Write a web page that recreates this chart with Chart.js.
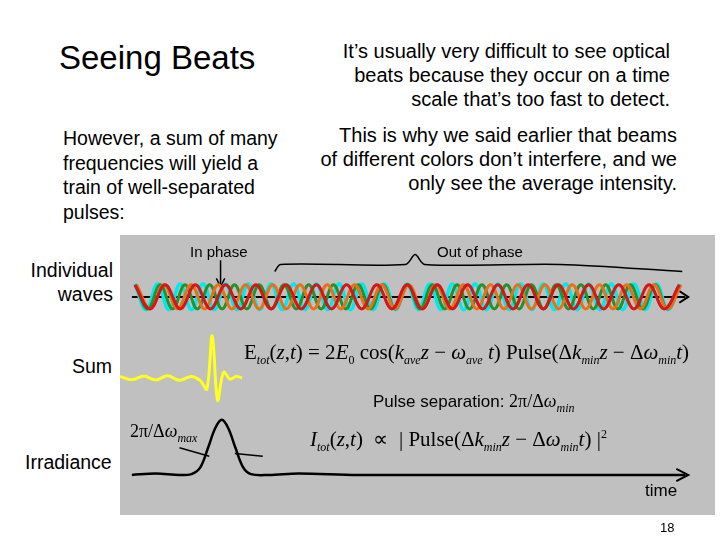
<!DOCTYPE html>
<html><head><meta charset="utf-8">
<script src="https://cdn.jsdelivr.net/npm/chart.js@4"></script>
<style>
body{margin:0;width:720px;height:540px;background:#fff;font-family:Arial,"Liberation Sans",sans-serif;position:relative;overflow:hidden}
.t{position:absolute;color:#000;white-space:nowrap}
#panel{position:absolute;left:120px;top:235px;width:595px;height:280px;background:#c0c0c0}
.f{font-family:"Liberation Serif","Times New Roman",serif;font-size:21px}
</style></head><body>
<div id="panel"><canvas id="c" width="595" height="280"></canvas></div>
<div class="t" style="left:59px;top:39px;font-size:33px">Seeing Beats</div>
<div class="t" style="left:63px;top:126px;font-size:19.5px;line-height:24.5px">However, a sum of many<br>frequencies will yield a<br>train of well-separated<br>pulses:</div>
<div class="t" style="right:50px;top:39px;font-size:20px;line-height:24px;text-align:right">It’s usually very difficult to see optical<br>beats because they occur on a time<br>scale that’s too fast to detect.</div>
<div class="t" style="right:43px;top:123px;font-size:20px;line-height:24px;text-align:right">This is why we said earlier that beams<br>of different colors don’t interfere, and we<br>only see the average intensity.</div>
<div class="t" style="right:607px;top:258px;font-size:19.5px;line-height:24px;text-align:right">Individual<br>waves</div>
<div class="t" style="left:72px;top:355px;font-size:19.5px">Sum</div>
<div class="t" style="left:25px;top:451px;font-size:19.5px">Irradiance</div>
<div class="t" style="left:190px;top:243px;font-size:15px">In phase</div>
<div class="t" style="left:437px;top:243px;font-size:15px">Out of phase</div>
<div class="t f" style="left:244px;top:340px">E<sub style="font-size:12px"><i>tot</i></sub>(<i>z</i>,<i>t</i>) = 2<i>E</i><sub style="font-size:12px">0</sub> cos(<i>k</i><sub style="font-size:12px"><i>ave</i></sub><i>z</i> − <i>ω</i><sub style="font-size:12px"><i>ave</i></sub> <i>t</i>) Pulse(Δ<i>k</i><sub style="font-size:12px"><i>min</i></sub><i>z</i> − Δ<i>ω</i><sub style="font-size:12px"><i>min</i></sub><i>t</i>)</div>
<div class="t" style="left:373px;top:391px;font-size:17px">Pulse separation: <span class="f" style="font-size:18px">2π/Δ<i>ω</i><sub style="font-size:12px"><i>min</i></sub></span></div>
<div class="t f" style="left:130px;top:421px;font-size:18px">2π/Δ<i>ω</i><sub style="font-size:12px"><i>max</i></sub></div>
<div class="t f" style="left:310px;top:427px"><i>I</i><sub style="font-size:12px"><i>tot</i></sub>(<i>z</i>,<i>t</i>) &nbsp;∝ &nbsp;| Pulse(Δ<i>k</i><sub style="font-size:12px"><i>min</i></sub><i>z</i> − Δ<i>ω</i><sub style="font-size:12px"><i>min</i></sub><i>t</i>) |<sup style="font-size:12px">2</sup></div>
<div class="t" style="left:645px;top:481px;font-size:17px">time</div>
<div class="t" style="left:660px;top:520px;font-size:13px">18</div>
<script>
const waveRed    =[1,-1,1,-1,1,-1,1,-1,1,-1,1,-1,1,-1,1,-1,1,-1,1,-1,1,-1,1,-1,1,-1,1,-1,1,-1,1,-1,1,-1,1,-1,1];
const waveOrange =[1,-1,1,-1,1,-1,1,-1,1,-1,1,-1,1,-1,1,-1,1,-1,1,-1,1,-1,1,-1,1,-1,1,-1,1,-1,1,-1,1,-1,1,-1,1,-1,1,-1,1];
const waveGreen  =[1,-1,1,-1,1,-1,1,-1,1,-1,1,-1,1,-1,1,-1,1,-1,1,-1,1,-1,1,-1,1,-1,1,-1,1,-1,1,-1,1,-1,1,-1,1,-1,1,-1,1,-1,1,-1,1];
const waveCyan   =[1,-1,1,-1,1,-1,1,-1,1,-1,1,-1,1,-1,1,-1,1,-1,1,-1,1,-1,1,-1,1,-1,1,-1,1,-1,1,-1,1,-1,1,-1,1,-1,1,-1,1,-1,1,-1,1,-1,1,-1,1];
const sumX=[0,2,4,6,8,10,12,13.5,14.6,15.5,16.4,17.4,18.5,19.5,20.5];
const sumY=[49.5,48.3,49.6,48.2,49.7,48.1,49.5,48,45,64,41,51,48.5,49.5,49];
const irrX=[2,6,10,12,13.5,14.8,16,17.1,18.2,19.4,20.7,22,25,30,40,95];
const irrY=[14.3,14.8,14.3,14.6,17,24,31,34,31,24,17,14.6,14.3,14.8,14.3,14.3];
const bracketX=[26,27,48,49.6,51.2,74,94.5];
const bracketY=[87,89.5,89.5,93,89.5,89.5,87];
function wave(vals,amp,phase){const x0=2.5,x1=94;return vals.map((v,i)=>({x:x0+(x1-x0)*i/(vals.length-1)+phase,y:77.9+v*amp}));}
const ln=(data,color,w,t)=>({data,borderColor:color,borderWidth:w,pointRadius:0,tension:t,fill:false});
new Chart(document.getElementById('c'),{type:'line',data:{datasets:[
 ln(wave(waveRed,4.3,0),'#d01818',3,0.4),
 ln(wave(waveOrange,4.3,0.3),'#e87018',3,0.4),
 ln(wave(waveGreen,4.3,0.1),'#289028',3,0.4),
 ln(wave(waveCyan,4.6,0),'#00e8f0',3.5,0.4),
 ln([{x:2,y:77.9},{x:95,y:77.9}],'#000',2,0),
 ln([{x:94,y:80},{x:95.5,y:77.9},{x:94,y:75.8}],'#000',2,0),
 ln(sumX.map((x,i)=>({x,y:sumY[i]})),'#ffff20',3,0.35),
 ln(irrX.map((x,i)=>({x,y:irrY[i]})),'#000',2.5,0.35),
 ln([{x:93.5,y:16.5},{x:95.5,y:14.3},{x:93.5,y:12.1}],'#000',2,0),
 ln(bracketX.map((x,i)=>({x,y:bracketY[i]})),'#000',1.5,0.3),
 ln([{x:16.9,y:91},{x:16.9,y:82}],'#000',1.5,0),
 ln([{x:16.2,y:84.5},{x:16.9,y:81.5},{x:17.6,y:84.5}],'#000',1.5,0),
 ln([{x:10,y:24},{x:15,y:21}],'#000',1.5,0),
 ln([{x:24,y:21},{x:19.3,y:22}],'#000',1.5,0)
]},options:{responsive:false,animation:false,plugins:{legend:{display:false},tooltip:{enabled:false}},
 layout:{padding:0},
 scales:{x:{type:'linear',min:0,max:100,display:false},y:{min:0,max:100,display:false}}}});
</script>
</body></html>
